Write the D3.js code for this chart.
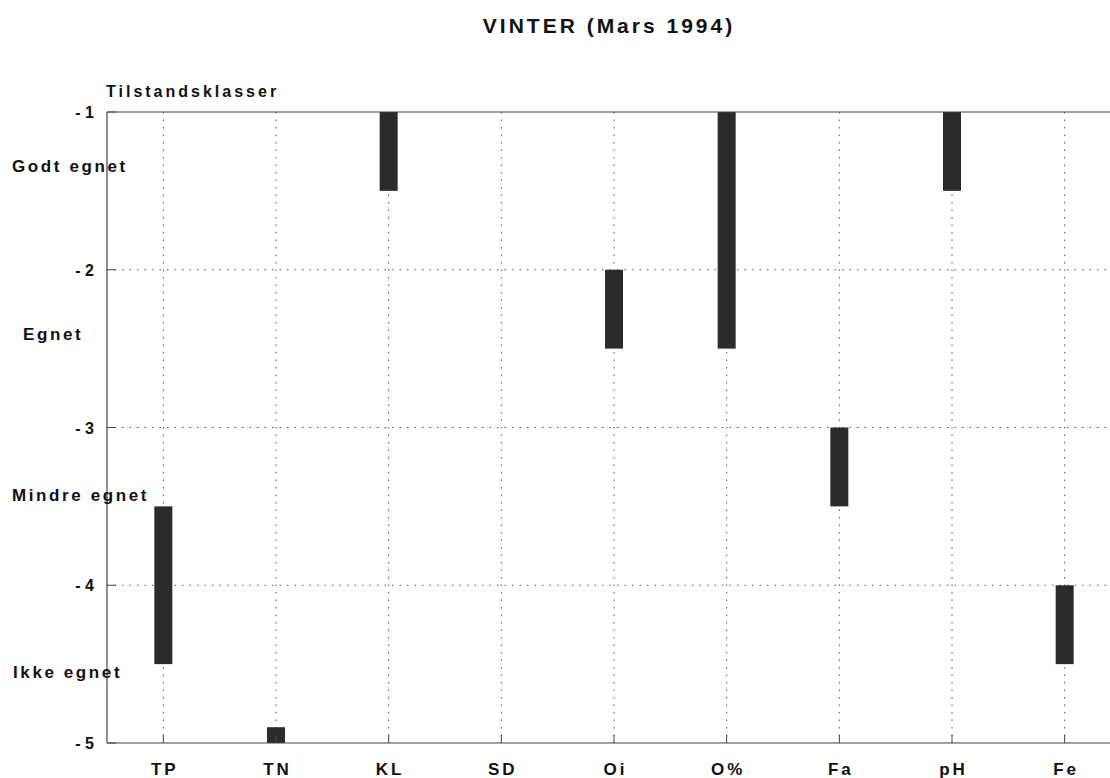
<!DOCTYPE html>
<html><head><meta charset="utf-8">
<script src="https://cdn.jsdelivr.net/npm/d3@7"></script>
<style>body{margin:0;background:#fff}svg{display:block}text{font-family:"Liberation Sans",Arial,sans-serif;fill:#111}</style>
</head><body><svg id="c" width="1110" height="778"></svg>
<script>
const categories = ["TP","TN","KL","SD","Oi","O%","Fa","pH","Fe"];
const barTop    = [-3.5, -4.9, -1, null, -2, -1, -3, -1, -4];
const barBottom = [-4.5, -5,   -1.5, null, -2.5, -2.5, -3.5, -1.5, -4.5];
const yTicks = [-1,-2,-3,-4,-5];
const classLabels = ["Godt egnet","Egnet","Mindre egnet","Ikke egnet"];
const classPos = [-1.34, -2.41, -3.43, -4.55];
const classX = [12, 23, 12, 13];

const svg = d3.select("#c");
const x = d3.scaleLinear().domain([0.5, 9.5]).range([107, 1121]);
const y = d3.scaleLinear().domain([-1, -5]).range([112, 743]);

// title
svg.append("text").attr("x",609).attr("y",33).attr("text-anchor","middle")
  .style("font-size","21px").style("font-weight","bold").style("letter-spacing","3px")
  .text("VINTER (Mars 1994)");
svg.append("text").attr("x",106).attr("y",97)
  .style("font-size","16px").style("font-weight","bold").style("letter-spacing","3px")
  .text("Tilstandsklasser");

// grid
const g = svg.append("g");
g.selectAll("line.h").data([-2,-3,-4]).enter().append("line")
  .attr("x1",107).attr("x2",1110).attr("y1",d=>y(d)).attr("y2",d=>y(d))
  .attr("stroke","#555").attr("stroke-width",1).attr("stroke-dasharray","1.5,6");
g.selectAll("line.v").data(categories).enter().append("line")
  .attr("x1",(d,i)=>x(i+1)).attr("x2",(d,i)=>x(i+1)).attr("y1",y(-1)).attr("y2",y(-5))
  .attr("stroke","#555").attr("stroke-width",1).attr("stroke-dasharray","1.5,6");

// bars
const bw = 18;
svg.selectAll("rect.bar").data(categories.map((c,i)=>({c,t:barTop[i],b:barBottom[i],i})).filter(d=>d.t!==null))
  .enter().append("rect")
  .attr("x",d=>x(d.i+1)-bw/2).attr("width",bw)
  .attr("y",d=>y(d.t)).attr("height",d=>y(d.b)-y(d.t))
  .attr("fill","#2b2b2b");

// axes frame
svg.append("line").attr("x1",107).attr("x2",1110).attr("y1",y(-1)).attr("y2",y(-1)).attr("stroke","#444").attr("stroke-width",1.2);
svg.append("line").attr("x1",107).attr("x2",1110).attr("y1",y(-5)).attr("y2",y(-5)).attr("stroke","#444").attr("stroke-width",1.2);
svg.append("line").attr("x1",107).attr("x2",107).attr("y1",y(-1)).attr("y2",y(-5)).attr("stroke","#444").attr("stroke-width",1.2);

// y tick labels
svg.selectAll("text.yt").data(yTicks).enter().append("text")
  .attr("x",94).attr("y",d=>y(d)+6).attr("text-anchor","end")
  .style("font-size","16px").style("font-weight","bold")
  .text(d=>"- "+Math.abs(d));
svg.selectAll("line.yt").data(yTicks).enter().append("line")
  .attr("x1",107).attr("x2",116).attr("y1",d=>y(d)).attr("y2",d=>y(d)).attr("stroke","#444");

// class labels
svg.selectAll("text.cl").data(classLabels).enter().append("text")
  .attr("x",(d,i)=>classX[i]).attr("y",(d,i)=>y(classPos[i])+6)
  .style("font-size","17px").style("font-weight","bold").style("letter-spacing","2.6px")
  .text(d=>d);

// x labels
svg.selectAll("text.xt").data(categories).enter().append("text")
  .attr("x",(d,i)=>x(i+1)+1.5).attr("y",775).attr("text-anchor","middle")
  .style("font-size","17px").style("font-weight","bold").style("letter-spacing","3px")
  .text(d=>d);
svg.selectAll("line.xt").data(categories).enter().append("line")
  .attr("x1",(d,i)=>x(i+1)).attr("x2",(d,i)=>x(i+1)).attr("y1",y(-5)).attr("y2",y(-5)-8).attr("stroke","#444");
</script></body></html>
